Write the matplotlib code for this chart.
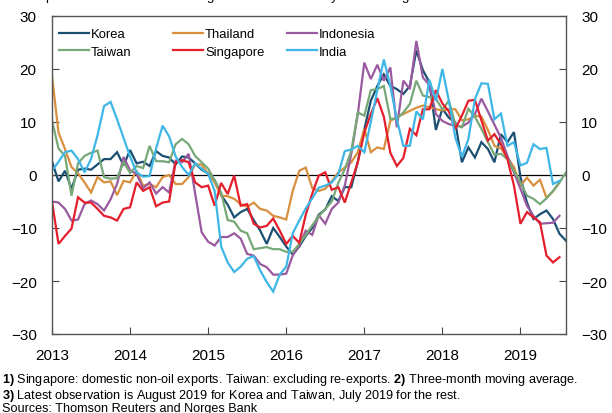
import matplotlib
matplotlib.use('Agg')
import matplotlib.pyplot as plt
import numpy as np

plt.rcParams['font.family'] = ['Liberation Sans', 'DejaVu Sans']
plt.rcParams['mathtext.fontset'] = 'custom'
plt.rcParams['mathtext.rm'] = 'Liberation Sans'
plt.rcParams['mathtext.bf'] = 'Liberation Sans:bold'
plt.rcParams['axes.unicode_minus'] = True

start_year = 2013

korea = [2.6, -1.2, 0.8, -2.6, 1.0, 1.2, 1.0, 2.0, 3.0, 3.0,
         4.3, 1.8, 4.7, 2.2, 2.5, 1.7, 4.5, 3.6, 3.3, 2.0,
         3.5, 3.3, 2.2, 1.0, 0.3, -1.0, -3.8, -5.6, -8.0, -7.0,
         -6.4, -8.5, -10.5, -13.0, -10.0, -11.7, -13.5, -15.0, -13.5, -11.5,
         -10.0, -7.5, -6.5, -4.0, -4.9, -2.3, -2.3, 2.5, 8.6, 14.0,
         16.8, 19.0, 16.8, 16.2, 15.3, 16.8, 23.5, 19.8, 17.5, 8.5,
         12.5, 10.8, 9.9, 2.4, 5.2, 3.3, 6.2, 4.9, 2.4, 7.7,
         6.2, 8.1, -0.4, -5.2, -8.3, -7.4, -6.7, -8.3, -11.1, -12.4]

taiwan = [10.3, 5.0, 3.6, -3.9, 2.2, 3.6, 4.2, 4.6, -0.4, -0.7,
          -0.6, 2.4, 0.4, 1.7, 1.3, 5.5, 2.6, 2.6, 2.4, 5.8,
          6.8, 5.8, 3.6, 2.4, 1.2, -1.0, -3.3, -8.5, -8.8, -10.5,
          -11.0, -14.0, -13.8, -13.6, -14.0, -14.0, -14.5, -14.5, -13.0, -11.3,
          -9.5, -7.8, -6.4, -5.0, -1.5, 1.1, 4.5, 11.8, 11.2, 16.0,
          16.2, 16.8, 10.6, 10.6, 11.8, 13.4, 17.8, 15.0, 14.7, 14.4,
          12.4, 14.0, 9.5, 9.0, 12.5, 11.0, 8.7, 6.2, 3.8, 4.0,
          3.0, 0.8, -1.4, -3.9, -4.5, -5.5, -4.4, -3.0, -1.4, 0.5]

thailand = [18.7, 8.0, 4.9, 1.5, 0.3, -1.4, -3.3, -0.4, -1.4, -1.2,
            -3.8, -1.1, -1.4, 0.8, -2.0, -1.7, -2.3, -0.4, 0.0, -1.7,
            -1.7, -0.4, 2.0, 2.0, 0.2, -1.4, -3.9, -4.0, -4.5, -5.5,
            -6.0, -5.2, -6.4, -6.7, -7.7, -8.0, -8.4, -3.0, 0.8, 1.4,
            -2.5, -3.0, -2.6, -1.2, 0.5, 1.4, 2.4, 4.3, 8.7, 4.3,
            5.2, 4.9, 10.2, 10.9, 11.5, 12.1, 12.7, 13.1, 12.8, 12.4,
            12.2, 12.4, 12.4, 10.3, 10.5, 11.2, 11.0, 8.5, 5.5, 5.0,
            3.3, 1.5, -2.0, -0.5, -2.0, -0.9, -4.3, -3.1, -1.4]

singapore = [-5.0, -13.0, -11.5, -10.1, -4.2, -5.2, -5.2, -6.4, -7.7, -8.0,
             -8.6, -6.4, -6.1, -1.4, -3.0, -2.3, -5.9, -5.2, -5.0, 2.4,
             2.8, 2.4, -1.4, -2.3, -2.0, -5.8, -1.5, -3.6, -0.1, -5.8,
             -5.5, -9.2, -9.9, -9.6, -8.2, -10.5, -13.0, -11.5, -12.8, -7.5,
             -3.5, -0.1, 0.5, -2.8, -2.3, -5.2, -1.4, 2.4, 8.0, 11.5,
             14.5, 11.0, 4.2, 1.7, 3.2, 8.7, 7.5, 12.4, 12.4, 16.0,
             13.5, 12.0, 8.7, 11.2, 14.0, 14.2, 10.3, 6.5, 7.7, 5.8,
             3.0, -2.0, -9.2, -7.0, -8.0, -8.9, -15.2, -16.5, -15.5]

indonesia = [-5.0, -5.2, -6.4, -8.6, -8.4, -5.5, -4.8, -5.5, -6.7, -4.6,
             -1.7, 3.4, 0.9, 0.2, -2.5, -1.4, -3.5, -2.3, -3.3, 2.7,
             2.4, 4.0, -3.5, -10.8, -12.6, -13.3, -11.7, -11.7, -11.0, -12.0,
             -14.9, -15.2, -16.8, -17.4, -18.8, -18.8, -18.6, -15.2, -13.3, -10.5,
             -11.3, -7.6, -9.2, -6.4, -5.2, -2.0, 4.0, 11.5, 21.2, 18.1,
             20.8, 17.8, 20.3, 9.0, 17.8, 16.2, 25.3, 18.4, 17.0, 11.5,
             10.2, 9.6, 9.3, 9.1, 9.9, 11.5, 14.4, 12.0, 9.5, 7.0,
             3.6, 0.5, -2.6, -5.8, -7.7, -9.2, -9.1, -9.0, -7.7]

india = [0.8, 2.5, 4.3, 4.6, 3.0, 0.5, 3.0, 7.5, 13.0, 13.8,
         10.5, 7.0, 3.5, 0.5, -0.3, -0.2, 5.0, 9.3, 7.3, 3.5,
         1.5, 0.0, 2.2, 1.2, 0.2, -3.0, -13.5, -16.5, -18.3, -17.3,
         -15.8, -15.3, -18.0, -20.2, -22.0, -18.8, -17.3, -11.0, -8.6, -6.3,
         -4.4, -2.4, -2.0, -1.4, 0.1, 4.5, 4.8, 5.5, 4.3, 10.0,
         16.0, 21.8, 16.8, 10.5, 5.5, 5.5, 12.0, 10.5, 18.0, 14.0,
         20.0, 14.0, 7.0, 3.4, 6.8, 14.3, 17.3, 17.2, 10.5, 11.6,
         5.5, 6.2, 1.8, 2.3, 5.8, 4.9, 5.1, -1.7, -1.1]

series = [
    ("Korea", korea, "#1b4f72"),
    ("Thailand", thailand, "#d8903e"),
    ("Indonesia", indonesia, "#9a5aa0"),
    ("Taiwan", taiwan, "#76a878"),
    ("Singapore", singapore, "#e41e2b"),
    ("India", india, "#3eb6e6"),
]

year_ticks = [2013, 2014, 2015, 2016, 2017, 2018, 2019]
y_ticks = [-30, -20, -10, 0, 10, 20, 30]
n_months = 80

title = r"Exports$^{1)}$. Twelve-month change$^{2)}$. Percent. January 2013 – August 2019$^{3)}$"
foot1 = r"$\mathbf{1)}$ Singapore: domestic non-oil exports. Taiwan: excluding re-exports. $\mathbf{2)}$ Three-month moving average."
foot2 = r"$\mathbf{3)}$ Latest observation is August 2019 for Korea and Taiwan, July 2019 for the rest."
foot3 = "Sources: Thomson Reuters and Norges Bank"

fig = plt.figure(figsize=(6.12, 4.14), dpi=100)
ax = fig.add_axes([52/612, 1-335/414, 514/612, 318/414])

lines = {}
for name, vals, col in series:
    x = start_year + np.arange(len(vals)) / 12.0
    ln, = ax.plot(x, vals, color=col, lw=1.6, label=name, solid_joinstyle='miter')
    lines[name] = ln

ax.axhline(0, color='black', lw=0.9, zorder=1)

ax.set_xlim(start_year, start_year + (n_months - 1) / 12.0)
ax.set_ylim(-30, 30)
ax.set_xticks(year_ticks)
ax.set_xticklabels([str(y) for y in year_ticks])
ax.set_yticks(y_ticks)
ax.tick_params(axis='y', direction='in', length=5, width=0.8, color='#444444',
               left=True, right=True, labelleft=True, labelright=True,
               labelsize=11, pad=11)
ax.tick_params(axis='x', direction='in', length=5, width=0.8, color='#444444',
               labelsize=11, pad=10)
for s in ax.spines.values():
    s.set_color('#555555')
    s.set_linewidth(1.0)

# legends: three columns
cols = [("Korea", "Taiwan"), ("Thailand", "Singapore"), ("Indonesia", "India")]
xpos = [(59-52)/514, (173-52)/514, (287-52)/514]
legs = []
for (a, b), xp in zip(cols, xpos):
    leg = ax.legend([lines[a], lines[b]], [a, b], loc='upper left',
                    bbox_to_anchor=(xp, 0.962), frameon=False, fontsize=9.4,
                    handlelength=2.3, handletextpad=0.15, borderpad=0,
                    borderaxespad=0, labelspacing=0.42)
    legs.append(leg)
ax.legend_ = None
for leg in legs:
    ax.add_artist(leg)

fig.text(30/612, 1-1.5/414, title, fontsize=9.5, va='baseline', ha='left')
fig.text(2/612, 1-383.5/414, foot1, fontsize=9.1, va='baseline', ha='left')
fig.text(2/612, 1-399/414, foot2, fontsize=9.1, va='baseline', ha='left')
fig.text(2/612, 1-412.5/414, foot3, fontsize=9.1, va='baseline', ha='left')

fig.savefig('out.png', dpi=100)
